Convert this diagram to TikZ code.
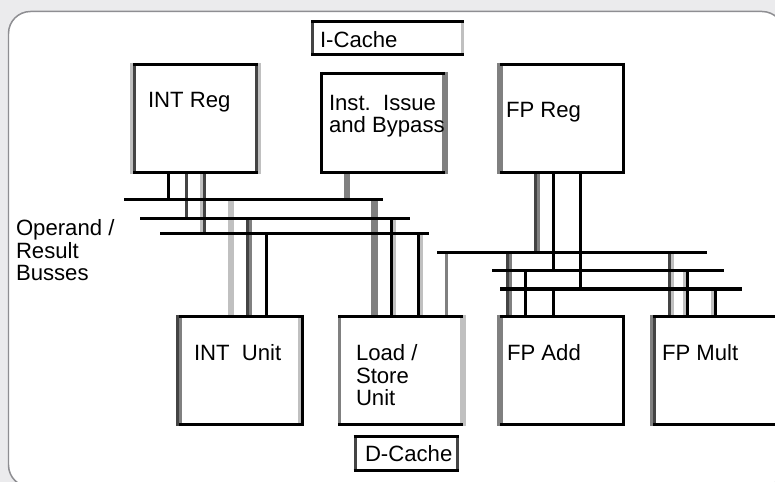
\documentclass[tikz,border=0pt]{standalone}
\usepackage{fontspec}
\setmainfont{Liberation Sans}

\definecolor{pagegray}{HTML}{EBEBED}
\definecolor{framegray}{HTML}{8E8E92}
\definecolor{tonedark}{HTML}{444444}
\definecolor{tonemid}{HTML}{808080}
\definecolor{tonelight}{HTML}{C0C0C0}

\begin{document}
\begin{tikzpicture}[
    x=0.02cm,
    y=-0.02cm,
    line cap=butt,
    blackline/.style={
        draw=black,
        line width=0.06cm
    },
    darkline/.style={
        draw=tonedark,
        line width=0.06cm
    },
    midline/.style={
        draw=tonemid,
        line width=0.06cm
    },
    lightline/.style={
        draw=tonelight,
        line width=0.06cm
    },
    noline/.style={
        draw=white,
        line width=0.06cm
    },
    widemid/.style={
        draw=tonemid,
        line width=0.13cm
    },
    widelight/.style={
        draw=tonelight,
        line width=0.12cm
    },
    boxside/.style={
        shorten <=-0.03cm,
        shorten >=-0.03cm
    },
    blockbox/.style={
        inner sep=0pt,
        outer sep=0pt,
        anchor=north west
    },
    blocktext/.style={
        inner sep=0pt,
        outer sep=0pt,
        anchor=base west,
        align=left,
        text=black,
        font=\fontsize{12.6pt}{13pt}\selectfont
    }
]

\useasboundingbox (0,0) rectangle (775,482);

% -------------------------------------------------
% Page and rounded frame
% -------------------------------------------------

\fill[pagegray] (0,0) rectangle (775,482);
\draw[framegray, fill=white, line width=0.03cm, rounded corners=0.44cm]
    (8.5,11.5) rectangle (784,487);

% -------------------------------------------------
% Blocks
% -------------------------------------------------

\node[blockbox, minimum width=3.06cm, minimum height=0.66cm] (icache) at (311,22) {};
\node[blockbox, minimum width=2.5cm, minimum height=2.16cm] (intreg) at (133,64.5) {};
\node[blockbox, minimum width=2.5cm, minimum height=1.98cm] (issue) at (320,73.5) {};
\node[blockbox, minimum width=2.5cm, minimum height=2.16cm] (fpreg) at (500,64.5) {};

\node[blockbox, minimum width=2.44cm, minimum height=2.16cm] (intunit) at (179,316.5) {};
\node[blockbox, minimum width=2.5cm, minimum height=2.16cm] (loadstore) at (338,316.5) {};
\node[blockbox, minimum width=2.5cm, minimum height=2.16cm] (fpadd) at (500,316.5) {};
\node[blockbox, minimum width=2.74cm, minimum height=2.16cm] (fpmult) at (653,316.5) {};
\node[blockbox, minimum width=2.12cm, minimum height=0.68cm] (dcache) at (353.5,436.5) {};

% -------------------------------------------------
% Bus ends
% -------------------------------------------------

\coordinate (busaw) at (124,199.5);
\coordinate (busae) at (383,199.5);
\coordinate (busbw) at (140,218.5);
\coordinate (busbe) at (410,218.5);
\coordinate (buscw) at (160,233.5);
\coordinate (busce) at (429,233.5);

\coordinate (busdw) at (437,252.5);
\coordinate (busde) at (707,252.5);
\coordinate (busew) at (492,270.5);
\coordinate (busee) at (724,270.5);
\coordinate (busfw) at (500,289);
\coordinate (busfe) at (742,289);

% -------------------------------------------------
% Wires from the register blocks down to the busses
% -------------------------------------------------

\foreach \x/\tone/\from/\to in {
    168.5/blackline/intreg/busaw,
    186.5/darkline/intreg/busbw,
    201.2/lightline/intreg/buscw,
    204/darkline/intreg/buscw,
    347/widemid/issue/busaw,
    535/darkline/fpreg/busdw,
    538.5/midline/fpreg/busdw,
    553.5/blackline/fpreg/busew,
    580.5/blackline/fpreg/busfw}{
    \draw[\tone] (\x,0 |- \from.south) -- (\x,0 |- \to);
}

% -------------------------------------------------
% Wires from the busses down to the units
% -------------------------------------------------

\foreach \x/\tone/\from/\to in {
    231/widelight/busaw/intunit,
    247.5/darkline/busbw/intunit,
    250.5/midline/busbw/intunit,
    266.5/blackline/buscw/intunit,
    374.5/widemid/busaw/loadstore,
    394.8/lightline/busbw/loadstore,
    391.8/blackline/busbw/loadstore,
    421.5/lightline/buscw/loadstore,
    418.5/blackline/buscw/loadstore,
    446.5/midline/busdw/loadstore,
    507.5/darkline/busdw/fpadd,
    510.5/midline/busdw/fpadd,
    525.5/blackline/busew/fpadd,
    553.5/blackline/busfw/fpadd,
    669.5/darkline/busdw/fpmult,
    672.5/lightline/busdw/fpmult,
    684.5/lightline/busew/fpmult,
    687.5/blackline/busew/fpmult,
    712.5/lightline/busfw/fpmult,
    715.5/blackline/busfw/fpmult}{
    \draw[\tone] (\x,0 |- \from) -- (\x,0 |- \to.north);
}

% -------------------------------------------------
% Busses
% -------------------------------------------------

\foreach \bus in {busa,busb,busc,busd,buse}{
    \draw[blackline] (\bus w) -- (\bus e);
}
\draw[blackline, line width=0.08cm] (busfw) -- (busfe);

% -------------------------------------------------
% Block edges: outer and inner tone on each side
% -------------------------------------------------

\foreach \n/\lo/\li/\ri/\ro in {
    icache/noline/darkline/lightline/noline,
    intreg/lightline/darkline/darkline/lightline,
    issue/noline/blackline/midline/midline,
    fpreg/midline/midline/blackline/noline,
    intunit/darkline/midline/lightline/blackline,
    loadstore/noline/midline/lightline/lightline,
    fpadd/midline/midline/blackline/noline,
    fpmult/midline/darkline/noline/noline,
    dcache/noline/darkline/darkline/noline}{
    \draw[\lo, boxside] ([xshift=-0.03cm]\n.north west) -- ([xshift=-0.03cm]\n.south west);
    \draw[\li, boxside] ([xshift=0.03cm]\n.north west) -- ([xshift=0.03cm]\n.south west);
    \draw[\ri, boxside] ([xshift=-0.03cm]\n.north east) -- ([xshift=-0.03cm]\n.south east);
    \draw[\ro, boxside] ([xshift=0.03cm]\n.north east) -- ([xshift=0.03cm]\n.south east);
    \draw[blackline] (\n.north west) -- (\n.north east);
    \draw[blackline] (\n.south west) -- (\n.south east);
}

% -------------------------------------------------
% Labels
% -------------------------------------------------

\node[blocktext] (icachetext) at (320,47.5) {I-Cache};
\node[blocktext] (intregtext) at (148,108) {INT Reg};
\node[blocktext] (issuetext) at (329,133) {Inst.\ \ Issue\\and Bypass};
\node[blocktext] (fpregtext) at (506,117.5) {FP Reg};
\node[blocktext] (intunittext) at (194,360.5) {INT\ \ Unit};
\node[blocktext] (loadtext) at (356,406) {Load /\\Store\\Unit};
\node[blocktext] (fpaddtext) at (507,360.5) {FP Add};
\node[blocktext] (fpmulttext) at (662,360.5) {FP Mult};
\node[blocktext] (dcachetext) at (365,461.5) {D-Cache};
\node[blocktext] (busnote) at (16,281) {Operand /\\Result\\Busses};

\end{tikzpicture}
\end{document}
